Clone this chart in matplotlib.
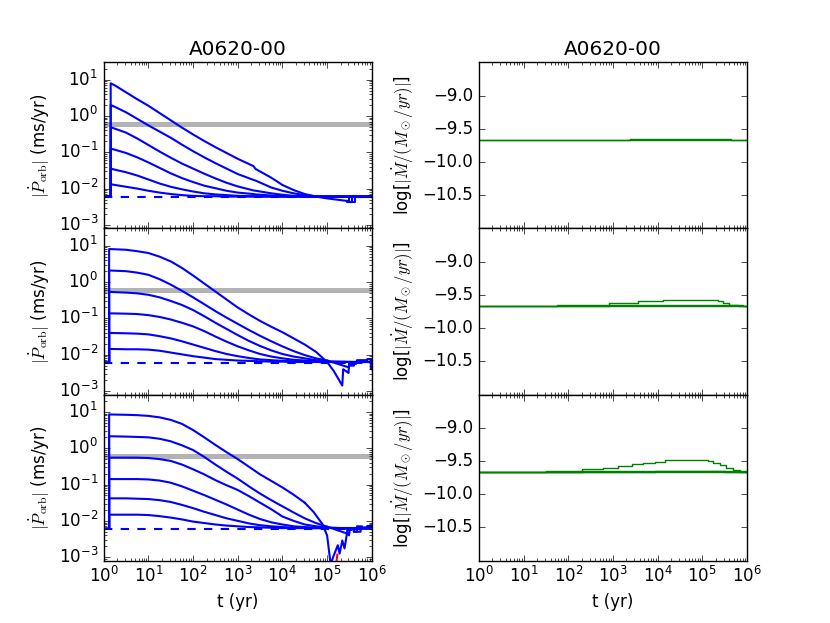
import numpy as np
import matplotlib
matplotlib.use('Agg')
import matplotlib.pyplot as plt

plt.style.use('classic')

# ---- left column: log10 |Pdot_orb| (ms/yr) -------------------------------
base = -2.22          # dashed reference level
band = (0.5, 0.68)    # grey observed band (ms/yr)

# top panel: shared log10(t) grid, one row per curve
top_lt = [0, 0.155, 0.155, 0.25, 0.5, 0.75, 1.0, 1.25, 1.5, 1.75, 2.0, 2.25, 2.5, 2.75, 3.0,
          3.35, 3.4, 3.75, 4.0, 4.25, 4.5, 4.75, 5.0, 5.45, 6.0]
top_lv = [
    [base, base, 0.90, 0.84, 0.65, 0.46, 0.28, 0.08, -0.12, -0.32, -0.51, -0.69, -0.86, -1.02, -1.18,
     -1.38, -1.46, -1.70, -1.90, -2.04, -2.15, -2.22, -2.27, -2.34, np.nan],
    [base, base, 0.30, 0.25, 0.10, -0.08, -0.26, -0.43, -0.60, -0.79, -0.97, -1.14, -1.30, -1.45, -1.60,
     -1.76, -1.78, -1.97, -2.06, -2.13, -2.18, -2.21, -2.22, -2.22, -2.22],
    [base, base, -0.31, -0.35, -0.46, -0.62, -0.80, -0.98, -1.15, -1.31, -1.45, -1.59, -1.72, -1.84, -1.94,
     -2.05, -2.06, -2.13, -2.17, -2.20, -2.21, -2.22, -2.22, -2.22, -2.22],
    [base, base, -0.90, -0.93, -1.02, -1.14, -1.28, -1.43, -1.58, -1.71, -1.82, -1.92, -1.99, -2.06, -2.11,
     -2.15, -2.16, -2.19, -2.21, -2.22, -2.22, -2.22, -2.22, -2.22, -2.22],
    [base, base, -1.45, -1.48, -1.55, -1.64, -1.75, -1.86, -1.95, -2.02, -2.08, -2.13, -2.16, -2.18, -2.20,
     -2.21, -2.21, -2.22, -2.22, -2.22, -2.22, -2.22, -2.22, -2.22, -2.22],
    [base, base, -1.88, -1.90, -1.95, -2.00, -2.06, -2.11, -2.15, -2.18, -2.20, -2.21, -2.21, -2.22, -2.22,
     -2.22, -2.22, -2.22, -2.22, -2.22, -2.22, -2.22, -2.22, -2.22, -2.22],
]
top_tail_lt = [[5.45, 5.45, 5.55, 5.55, 5.67, 5.67, 6.0],
               [5.5, 5.5, 5.62, 5.62]]
top_tail_lv = [[-2.34, -2.37, -2.37, -2.21, -2.21, -2.22, -2.22],
               [-2.22, -2.37, -2.37, -2.22]]

# middle panel
mid_lt = [0, 0.12, 0.12, 0.5, 0.75, 1.0, 1.25, 1.5, 1.75, 2.0, 2.25, 2.5, 2.75, 3.0,
          3.25, 3.5, 3.75, 4.0, 4.25, 4.5, 4.75, 5.0]
mid_lv = [
    [base, base, 0.91, 0.89, 0.85, 0.80, 0.70, 0.57, 0.39, 0.18, -0.04, -0.26, -0.48, -0.70,
     -0.89, -1.07, -1.23, -1.38, -1.55, -1.72, -1.92, -2.20],
    [base, base, 0.32, 0.30, 0.26, 0.20, 0.08, -0.07, -0.24, -0.42, -0.61, -0.80, -0.98, -1.15,
     -1.32, -1.48, -1.63, -1.77, -1.90, -2.01, -2.10, -2.16],
    [base, base, -0.27, -0.29, -0.31, -0.35, -0.42, -0.52, -0.63, -0.77, -0.94, -1.12, -1.29, -1.46,
     -1.62, -1.76, -1.88, -1.98, -2.05, -2.10, -2.15, -2.18],
    [base, base, -0.86, -0.87, -0.88, -0.91, -0.96, -1.03, -1.12, -1.22, -1.35, -1.50, -1.64, -1.77,
     -1.88, -1.98, -2.05, -2.10, -2.14, -2.16, -2.18, -2.19],
    [base, base, -1.40, -1.41, -1.42, -1.44, -1.49, -1.55, -1.63, -1.72, -1.81, -1.90, -1.98, -2.04,
     -2.09, -2.13, -2.15, -2.17, -2.18, -2.19, -2.20, -2.20],
    [base, base, -1.84, -1.85, -1.85, -1.86, -1.89, -1.94, -1.99, -2.04, -2.08, -2.12, -2.14, -2.16,
     -2.17, -2.18, -2.19, -2.19, -2.20, -2.20, -2.20, -2.20],
]
mid_tail_lt = [[5.0, 5.15, 5.34, 5.36, 5.48, 5.49, 5.6, 5.6, 6.0],
               [5.0, 5.49, 5.49, 5.65, 5.65, 6.0],
               [5.0, 5.67, 5.67, 5.9, 5.9, 5.98, 5.98, 6.0],
               [5.0, 6.0]]
mid_tail_lv = [[-2.20, -2.45, -2.85, -2.40, -2.50, -2.30, -2.30, -2.20, -2.20],
               [-2.16, -2.35, -2.25, -2.25, -2.20, -2.20],
               [-2.18, -2.20, -2.15, -2.15, -2.12, -2.12, -2.40, -2.40],
               [-2.20, -2.20]]

# bottom panel
bot_lt = mid_lt
bot_lv = [
    [base, base, 0.93, 0.92, 0.91, 0.89, 0.85, 0.78, 0.67, 0.50, 0.30, 0.09, -0.11, -0.30,
     -0.51, -0.72, -0.90, -1.08, -1.28, -1.50, np.nan, np.nan],
    [base, base, 0.33, 0.32, 0.31, 0.30, 0.26, 0.19, 0.08, -0.05, -0.24, -0.45, -0.65, -0.84,
     -1.05, -1.25, -1.43, -1.60, -1.77, -1.93, -2.06, -2.16],
    [base, base, -0.26, -0.26, -0.26, -0.27, -0.30, -0.35, -0.45, -0.58, -0.72, -0.88, -1.02, -1.15,
     -1.32, -1.50, -1.68, -1.88, -2.00, -2.10, -2.15, -2.18],
    [base, base, -0.85, -0.85, -0.85, -0.86, -0.89, -0.95, -1.05, -1.17, -1.29, -1.42, -1.55, -1.69,
     -1.83, -1.95, -2.04, -2.10, -2.15, -2.17, -2.19, -2.20],
    [base, base, -1.38, -1.38, -1.39, -1.40, -1.43, -1.48, -1.56, -1.65, -1.75, -1.84, -1.93, -2.00,
     -2.07, -2.12, -2.15, -2.17, -2.19, -2.20, -2.20, -2.20],
    [base, base, -1.83, -1.83, -1.83, -1.84, -1.87, -1.91, -1.96, -2.02, -2.06, -2.10, -2.13, -2.15,
     -2.17, -2.18, -2.19, -2.20, -2.20, -2.20, -2.20, -2.20],
]
bot_tail_lt = [[4.5, 4.7, 4.89, 5.0, 5.04, 5.08, 5.15, 5.24, 5.28, 5.34, 5.39, 5.45, 5.49, 5.51,
                5.6, 5.6, 5.67, 5.67, 5.78, 5.78, 6.0],
               [5.0, 5.45, 5.45, 5.55, 5.55, 6.0],
               [5.0, 5.6, 5.6, 5.75, 5.75, 5.9, 5.9, 6.0],
               [5.0, 6.0]]
bot_tail_lv = [[-1.50, -1.76, -2.08, -2.40, -2.80, -3.20, -2.95, -2.67, -2.90, -2.54, -2.76, -2.31, -2.40, -2.22,
                -2.22, -2.30, -2.30, -2.15, -2.15, -2.22, -2.22],
               [-2.16, -2.35, -2.25, -2.25, -2.20, -2.20],
               [-2.18, -2.22, -2.30, -2.30, -2.18, -2.18, -2.14, -2.14],
               [-2.20, -2.20]]
bot_red_lt = [5.2, 5.23]
bot_red_lv = [-3.2, -2.93]

# ---- right column: log10 |Mdot| steps ------------------------------------
mdot_base = -9.67
r_top_lt = [[0, 6.0], [0, 3.38, 5.65, 6.0]]
r_top_lv = [[mdot_base, mdot_base], [mdot_base, -9.655, mdot_base, mdot_base]]

r_mid_lt = [[0, 6.0],
            [0, 1.74, 2.9, 3.56, 4.11, 5.35, 5.46, 5.6, 5.9, 6.0],
            [0, 2.9, 3.3, 3.56, 5.5, 5.8, 6.0]]
r_mid_lv = [[mdot_base, mdot_base],
            [mdot_base, -9.645, -9.615, -9.59, -9.575, -9.59, -9.615, -9.645, mdot_base, mdot_base],
            [mdot_base, -9.65, -9.655, -9.645, -9.655, mdot_base, mdot_base]]

r_bot_lt = [[0, 6.0],
            [0, 1.51, 2.3, 2.78, 3.12, 3.42, 3.68, 3.94, 4.16, 4.35, 5.13, 5.24, 5.39, 5.54, 5.69, 5.84, 6.0],
            [0, 2.3, 3.68, 5.6, 5.84, 6.0],
            [0, 2.78, 3.94, 5.5, 5.9, 6.0]]
r_bot_lv = [[mdot_base, mdot_base],
            [mdot_base, -9.645, -9.62, -9.6, -9.58, -9.55, -9.53, -9.51, -9.49, -9.48, -9.5, -9.53,
             -9.56, -9.6, -9.63, -9.645, mdot_base],
            [mdot_base, -9.655, -9.645, -9.655, mdot_base, mdot_base],
            [mdot_base, -9.66, -9.65, -9.66, mdot_base, mdot_base]]

fig, axes = plt.subplots(3, 2, figsize=(8.3, 6.23), dpi=100, sharex=True)
fig.subplots_adjust(left=0.125, right=0.9, top=0.9, bottom=0.1, wspace=0.4, hspace=0)

left_data = [(top_lt, top_lv, top_tail_lt, top_tail_lv),
             (mid_lt, mid_lv, mid_tail_lt, mid_tail_lv),
             (bot_lt, bot_lv, bot_tail_lt, bot_tail_lv)]
right_data = [(r_top_lt, r_top_lv), (r_mid_lt, r_mid_lv), (r_bot_lt, r_bot_lv)]

for i, (lt, lv, tlt, tlv) in enumerate(left_data):
    ax = axes[i, 0]
    ax.axhspan(band[0], band[1], color='0.7', lw=0)
    t = 10 ** np.array(lt)
    for row in lv:
        ax.plot(t, 10 ** np.array(row), 'b-', lw=1.5)
    for a, b in zip(tlt, tlv):
        ax.plot(10 ** np.array(a), 10 ** np.array(b), 'b-', lw=1.5)
    ax.plot([1, 1e6], [10 ** base, 10 ** base], 'b--', lw=1.5)
    if i == 2:
        ax.plot(10 ** np.array(bot_red_lt), 10 ** np.array(bot_red_lv), 'r-', lw=1.5)
    ax.set_xscale('log')
    ax.set_yscale('log')
    ax.set_xlim(1, 1e6)
    ax.set_ylim(8e-4, 3e1)
    ax.set_ylabel(r'$|\dot{P}_{\rm orb}|$ (ms/yr)')

for i, (lt, lv) in enumerate(right_data):
    ax = axes[i, 1]
    for a, b in zip(lt, lv):
        ax.step(10 ** np.array(a), b, where='post', color='g', lw=1.0)
    ax.set_xscale('log')
    ax.set_xlim(1, 1e6)
    ax.set_ylim(-11, -8.5)
    ax.set_yticks([-10.5, -10.0, -9.5, -9.0])
    ax.set_ylabel(r'log[$|\dot{M}/(M_\odot/yr)|$]')

axes[0, 0].set_title('A0620-00')
axes[0, 1].set_title('A0620-00')
axes[2, 0].set_xlabel('t (yr)')
axes[2, 1].set_xlabel('t (yr)')

fig.savefig('out.png', dpi=100, facecolor='white')
